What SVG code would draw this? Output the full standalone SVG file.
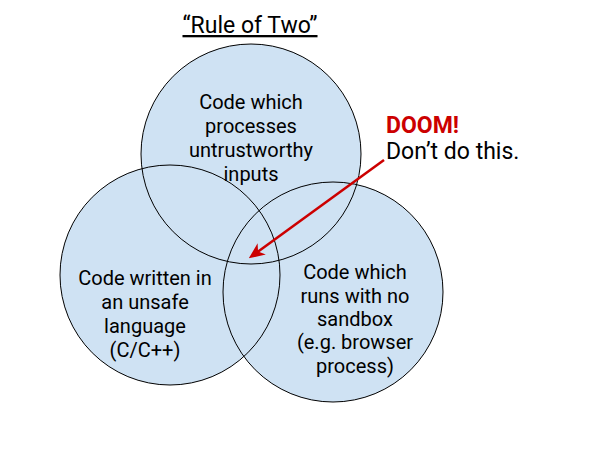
<svg xmlns="http://www.w3.org/2000/svg" width="600" height="450" viewBox="0 0 600 450">
<style>
.c{fill:#cfe2f3;stroke:none}
.o{fill:none;stroke:#000;stroke-width:1}
.t{font-family:Roboto,"Liberation Sans",sans-serif;font-size:20px;fill:#000;text-anchor:middle}
.b{font-family:Roboto,"Liberation Sans",sans-serif;font-size:23px}
</style>
<defs>
<marker id="ah" markerWidth="16" markerHeight="14" refX="12" refY="7" orient="auto" markerUnits="userSpaceOnUse" viewBox="0 0 16 14">
<path d="M0,0 L16,7 L0,14 L4.5,7 Z" fill="#cc0000"/>
</marker>
</defs>
<rect width="600" height="450" fill="#fff"/>
<text class="b" x="250" y="33" text-anchor="middle" text-decoration="underline">“Rule of Two”</text>
<g id="fills">
<circle class="c" cx="251" cy="154" r="110"/>
<circle class="c" cx="170" cy="275" r="110"/>
<circle class="c" cx="333" cy="292" r="110"/>
</g>
<g id="top"><circle class="o" cx="251" cy="154" r="110"/>
<text class="t" x="251" y="109">Code which</text>
<text class="t" x="251" y="133">processes</text>
<text class="t" x="251" y="157">untrustworthy</text>
<text class="t" x="251" y="181">inputs</text>
</g>
<g id="left"><circle class="o" cx="170" cy="275" r="110"/>
<text class="t" x="145" y="285">Code written in</text>
<text class="t" x="145" y="309">an unsafe</text>
<text class="t" x="145" y="333">language</text>
<text class="t" x="145" y="357">(C/C++)</text>
</g>
<g id="right"><circle class="o" cx="333" cy="292" r="110"/>
<text class="t" x="355" y="279">Code which</text>
<text class="t" x="355" y="303">runs with no</text>
<text class="t" x="355" y="326">sandbox</text>
<text class="t" x="355" y="349">(e.g. browser</text>
<text class="t" x="355" y="373">process)</text>
</g>
<g id="doom">
<text class="b" x="386" y="133" font-weight="bold" fill="#cc0000">DOOM!</text>
<text class="b" x="386" y="159" fill="#000">Don’t do this.</text>
</g>
<g id="connectors">
<line x1="384" y1="160" x2="252" y2="256" stroke="#cc0000" stroke-width="2.5" marker-end="url(#ah)"/>
</g>
</svg>
